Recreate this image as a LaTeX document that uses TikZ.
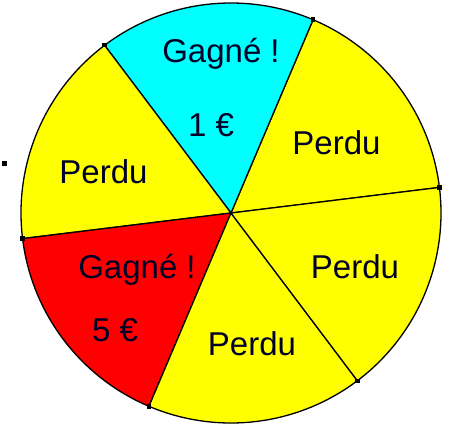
\documentclass[tikz,border=0pt]{standalone}
\usepackage{fontspec}
\setmainfont{Liberation Sans}
\usetikzlibrary{positioning}
\definecolor{wheelYellow}{RGB}{255,255,0}
\definecolor{wheelCyan}{RGB}{0,255,255}
\definecolor{wheelRed}{RGB}{255,0,0}

\begin{document}
\begin{tikzpicture}[x=1pt, y=1pt, line width=1.3pt,
    lbl/.style={anchor=base, inner sep=0pt, text=black!85!blue, font=\fontsize{33}{36}\selectfont}]
  \useasboundingbox (-231,-216) rectangle (219,213);
  % the six sectors of the wheel
  \foreach \a/\c in {7/wheelYellow, 67/wheelCyan, 127/wheelYellow, 187/wheelRed, 247/wheelYellow, 307/wheelYellow}
    \filldraw[fill=\c] (0,0) -- (\a:210) arc[start angle=\a, delta angle=60, radius=210] -- cycle;
  % small marks on the rim
  \foreach \a in {7,67,...,307}
    \fill (\a:210) +(-2.2,-2.2) rectangle +(2.2,2.2);
  \fill (-226,50) +(-2.5,-2.5) rectangle +(2.5,2.5);
  % labels
  \node[lbl] (gain1) at (-10,151) {Gagné !};
  \node[lbl] (euro1) at (-20,77) {1 €};
  \node[lbl] (lostTR) at (105.5,59) {Perdu};
  \node[lbl] (lostL) at (-127.5,30) {Perdu};
  \node[lbl] (gain5) at (-94,-65) {Gagné !};
  \node[lbl] (euro5) at (-116,-128) {5 €};
  \node[lbl] (lostR) at (124,-65) {Perdu};
  \node[lbl] (lostB) at (21,-142) {Perdu};
\end{tikzpicture}
\end{document}
